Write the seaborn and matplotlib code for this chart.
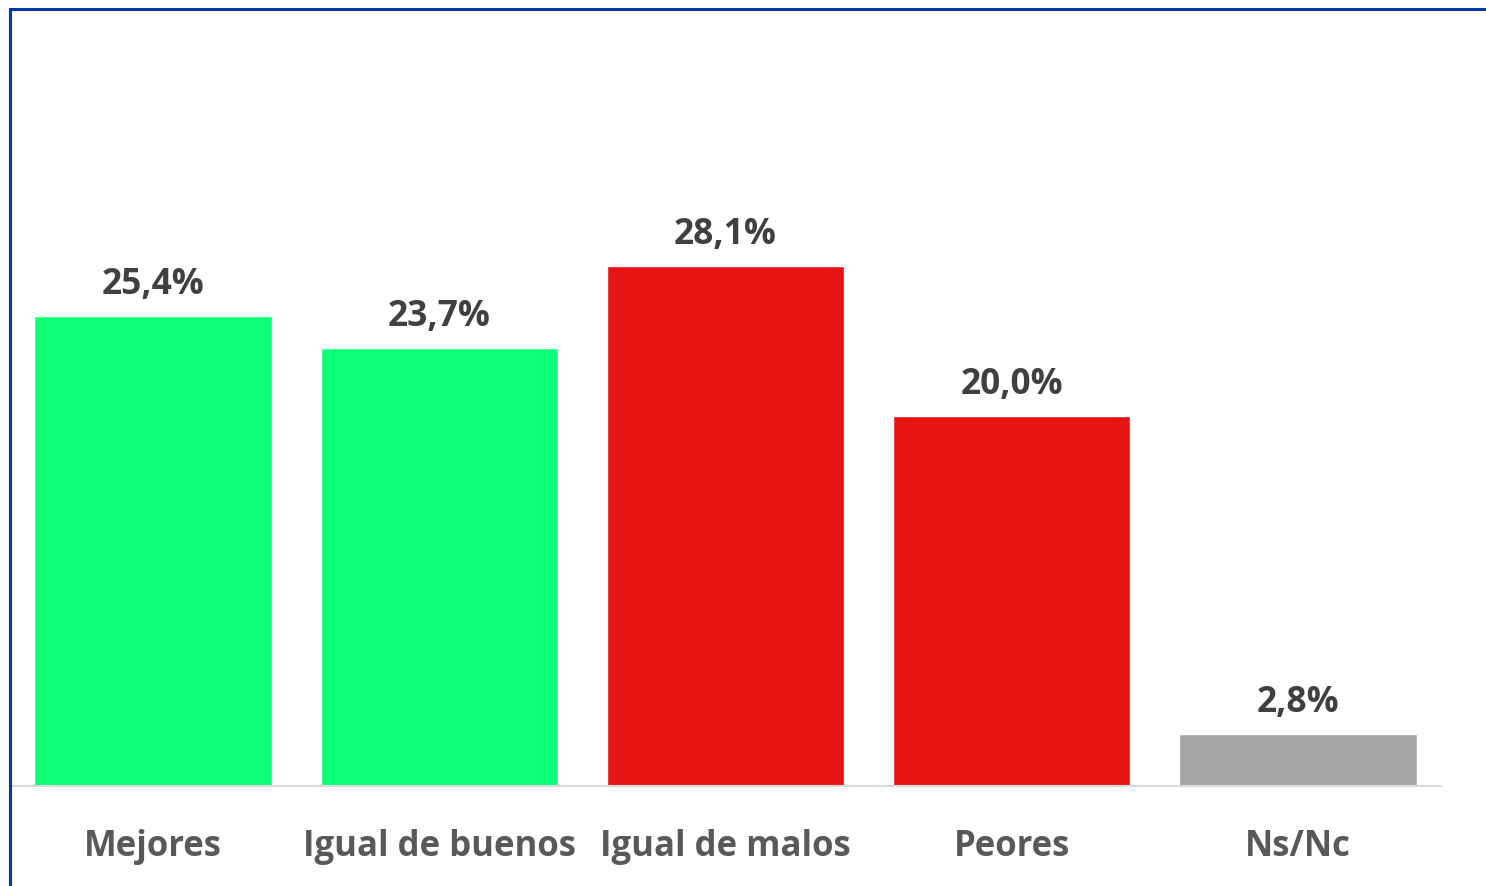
import matplotlib
matplotlib.use("Agg")
import matplotlib.pyplot as plt
import seaborn as sns
import pandas as pd
from matplotlib.patches import Rectangle

# Data
categorias = ["Mejores", "Igual de buenos", "Igual de malos", "Peores", "Ns/Nc"]
valores = [25.4, 23.7, 28.1, 20.0, 2.8]
colores = ["#0EFF78", "#0EFF78", "#E81313", "#E81313", "#A6A6A6"]

df = pd.DataFrame({"categoria": categorias, "valor": valores})

sns.set_style("white")
plt.rcParams["font.family"] = ["Open Sans", "DejaVu Sans"]

W, H = 1486, 887
fig = plt.figure(figsize=(W / 100, H / 100), dpi=100)
ax = fig.add_axes([10 / W, (H - 787) / H, 1431 / W, 740 / H])

sns.barplot(data=df, x="categoria", y="valor", hue="categoria",
            palette=colores, width=0.83, legend=False, ax=ax, saturation=1)

ax.set_ylim(0, 40)
ax.set_xlim(-0.5, len(categorias) - 0.5)
ax.set_xlabel("")
ax.set_ylabel("")
ax.set_yticks([])
for s in ["top", "right", "left"]:
    ax.spines[s].set_visible(False)
ax.spines["bottom"].set_color("#D9D9D9")
ax.spines["bottom"].set_linewidth(1.5)
ax.tick_params(axis="x", length=0, pad=30, labelsize=25, labelcolor="#595959")
for lbl in ax.get_xticklabels():
    lbl.set_fontweight("bold")

for i, v in enumerate(valores):
    ax.annotate(f"{v:.1f}%".replace(".", ","), (i, v), xytext=(0, 10),
                textcoords="offset points", ha="center", va="bottom",
                fontsize=25.5, fontweight="bold", color="#404040")

# blue frame
fig.add_artist(Rectangle((10 / W, -0.1), 1.2, (H - 10) / H + 0.1,
                         transform=fig.transFigure, fill=False,
                         edgecolor="#0039A6", linewidth=2.2))

fig.savefig("out.png", dpi=100)
